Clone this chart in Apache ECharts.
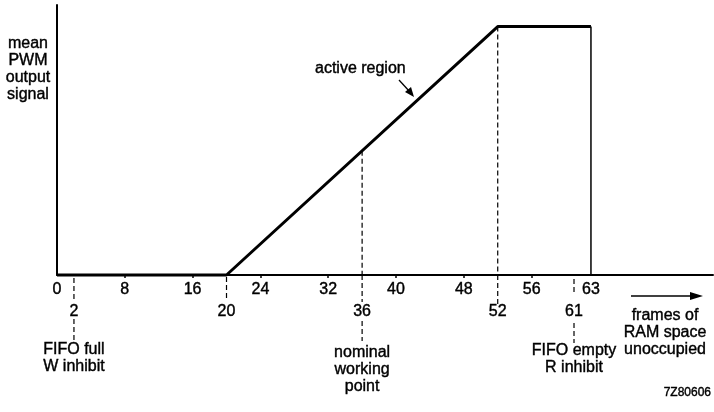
<!DOCTYPE html>
<html><head><meta charset="utf-8">
<script src="https://cdn.jsdelivr.net/npm/echarts@6/dist/echarts.min.js"></script>
<style>html,body{margin:0;padding:0;background:#fff}#c{width:714px;height:412px}</style>
</head><body><div id="c"></div>
<script>
// ---- data ----
const curveX = [0, 20, 52, 63];
const curveY = [0, 0, 0.92, 0.92];
const dropX = 63;
const mainTicks = [0, 8, 16, 24, 32, 40, 48, 56, 63];
const minorTicks = [8, 16, 24, 32, 40, 48, 56];
const markerTicks = [2, 20, 36, 52, 61];
const leadersFromCurve = [36, 52];
const yLabelLines = ['mean', 'PWM', 'output', 'signal'];
const xLabelLines = ['frames of', 'RAM space', 'unoccupied'];
const curveNote = 'active region';
const markerNotes = { 2: ['FIFO full', 'W inhibit'], 36: ['nominal', 'working', 'point'], 61: ['FIFO empty', 'R inhibit'] };
const figureCode = '7Z80606';

// ---- styles / layout ----
const FONT = 'Liberation Sans, Arial, sans-serif';
const FS = 16;
// below-axis dashed pieces per marker (pixel offsets from the x axis)
const belowPieces = { 2: [[3, 26], [44, 67]], 20: [[2, 25]], 36: [[0, 27], [46, 66]], 52: [[0, 29]], 61: [[4, 18], [48, 68]] };
const noteTop = { 2: 350, 36: 353, 61: 351 };

function curveAt(x) {
  for (let i = 0; i < curveX.length - 1; i++) {
    if (x >= curveX[i] && x <= curveX[i + 1]) {
      const t = (x - curveX[i]) / (curveX[i + 1] - curveX[i]);
      return curveY[i] + t * (curveY[i + 1] - curveY[i]);
    }
  }
  return 0;
}

const chart = echarts.init(document.getElementById('c'), null, { renderer: 'canvas' });
const labelStyle = { color: '#000', fontSize: FS, fontFamily: FONT, textBorderColor: '#000', textBorderWidth: 0.4 };
const option = {
  animation: false,
  backgroundColor: '#fff',
  grid: { left: 57, right: 1, top: 5, bottom: 137 },
  xAxis: [
    {
      type: 'value', min: 0, max: 77.4,
      axisLine: { show: true, lineStyle: { color: '#000', width: 2 } },
      axisTick: { show: true, customValues: minorTicks, length: 3, lineStyle: { color: '#000', width: 1.5 } },
      axisLabel: { customValues: mainTicks, margin: 7, ...labelStyle },
      splitLine: { show: false }
    },
    {
      type: 'value', min: 0, max: 77.4, position: 'bottom',
      axisLine: { show: false }, axisTick: { show: false },
      axisLabel: { customValues: markerTicks, margin: 29, ...labelStyle },
      splitLine: { show: false }
    }
  ],
  yAxis: {
    type: 'value', min: 0, max: 1,
    axisLine: { show: true, lineStyle: { color: '#000', width: 2 } },
    axisTick: { show: false }, axisLabel: { show: false }, splitLine: { show: false }
  },
  series: [
    {
      type: 'line', symbol: 'none', clip: false,
      data: curveX.map((x, i) => [x, curveY[i]]),
      lineStyle: { color: '#000', width: 3 }
    },
    {
      type: 'line', symbol: 'none', clip: false,
      data: [[dropX, curveAt(dropX)], [dropX, 0]],
      lineStyle: { color: '#000', width: 1.5 }
    }
  ]
};
chart.setOption(option);

const axisY = chart.convertToPixel({ gridIndex: 0 }, [0, 0])[1];
const g = [];
const dash = { stroke: '#000', lineWidth: 1.2, lineDash: [5, 3] };
const txt = (text, x, y, align, size) => ({ type: 'text', silent: true, style: {
  text, x, y, align: align || 'center', verticalAlign: 'middle',
  font: (size || FS) + 'px ' + FONT, fill: '#000', stroke: '#000', lineWidth: 0.4 } });
markerTicks.forEach(v => {
  const [px, topY] = chart.convertToPixel({ gridIndex: 0 }, [v, curveAt(v)]);
  if (leadersFromCurve.includes(v)) {
    g.push({ type: 'line', shape: { x1: px, y1: topY, x2: px, y2: axisY }, style: dash, silent: true });
  }
  (belowPieces[v] || []).forEach(p => {
    g.push({ type: 'line', shape: { x1: px, y1: axisY + p[0], x2: px, y2: axisY + p[1] }, style: dash, silent: true });
  });
  const notes = markerNotes[v];
  if (notes) notes.forEach((t, i) => g.push(txt(t, px, noteTop[v] + i * 17)));
});
// y-axis title
yLabelLines.forEach((t, i) => g.push(txt(t, 28, 44 + i * 17)));
// x-axis title with arrow
xLabelLines.forEach((t, i) => g.push(txt(t, 665, 316 + i * 17)));
g.push({ type: 'line', silent: true, shape: { x1: 631, y1: 296, x2: 692, y2: 296 }, style: { stroke: '#000', lineWidth: 1.5 } });
g.push({ type: 'polygon', silent: true, shape: { points: [[703, 296], [690, 292], [690, 300]] }, style: { fill: '#000' } });
// curve note with pointer
g.push(txt(curveNote, 315, 69, 'left'));
g.push({ type: 'line', silent: true, shape: { x1: 399, y1: 80, x2: 410, y2: 92 }, style: { stroke: '#000', lineWidth: 1.3 } });
g.push({ type: 'polygon', silent: true, shape: { points: [[414, 97], [405, 92], [411, 87]] }, style: { fill: '#000' } });
// figure code
g.push(txt(figureCode, 711, 393, 'right', 12));
chart.setOption({ graphic: { elements: g } });
</script>
</body></html>
